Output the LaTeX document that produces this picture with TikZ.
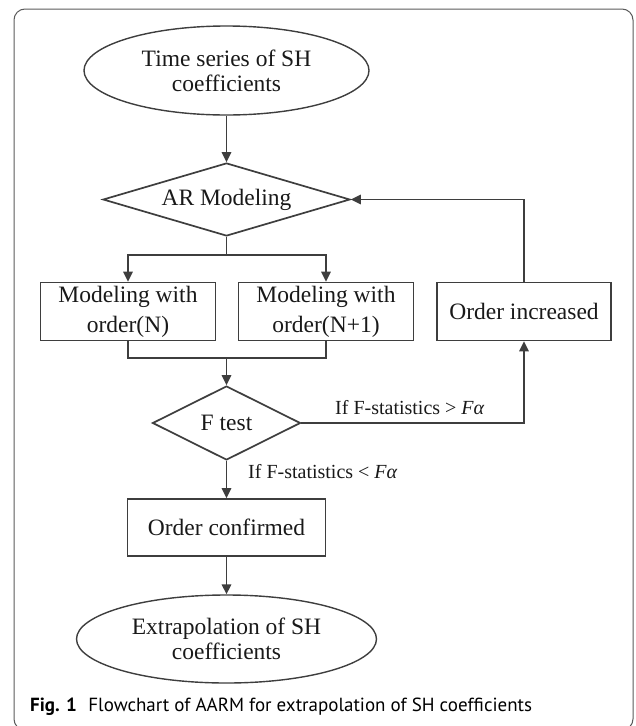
\documentclass[tikz,border=0pt]{standalone}
\usepackage{fontspec}
\setmainfont{Liberation Serif}
\newfontfamily\capfont{PT Sans}
\usetikzlibrary{shapes.geometric,arrows.meta}
\definecolor{linegray}{RGB}{62,62,62}
\definecolor{framegray}{RGB}{90,90,90}
\begin{document}
\begin{tikzpicture}[x=1pt,y=-1pt,
  base/.style={draw=linegray, line width=1.7pt, inner sep=0pt, font=\fontsize{23.5}{30}\selectfont, text=black!90, align=center},
  terminal/.style={base, ellipse, line width=1.4pt, font=\fontsize{23.5}{25}\selectfont},
  decision/.style={base, diamond},
  process/.style={base, rectangle},
  conn/.style={draw=linegray, line width=1.7pt},
  arr/.style={conn, -{Triangle[length=10pt,width=9.5pt]}},
  lbl/.style={font=\fontsize{20}{24}\selectfont, inner sep=0pt, text=black!90},
]
\useasboundingbox (0,0) rectangle (636,726);
\draw[framegray, line width=1pt, rounded corners=11pt] (14,9) rectangle (633,730);

\node[terminal, minimum width=285, minimum height=89] (start) at (226.5,70.5) {Time series of SH\\coefficients};
\node[decision, aspect=3.38, minimum width=247, minimum height=73] (ar) at (226.5,199.5) {AR Modeling};
\coordinate (split) at (226.5,255);
\node[process, minimum width=175, minimum height=58] (mn) at (128,311.5) {Modeling with\\order(N)};
\node[process, minimum width=175, minimum height=58] (mn1) at (326,311.5) {Modeling with\\order(N+1)};
\node[process, minimum width=174, minimum height=58] (oi) at (524,311.5) {Order increased};
\coordinate (join) at (226.5,358);
\node[decision, aspect=2, minimum width=148, minimum height=74] (ft) at (226.5,423) {F test};
\node[process, minimum width=198, minimum height=57] (oc) at (226.5,527.5) {Order confirmed};
\node[terminal, minimum width=300, minimum height=88] (end) at (226.5,639) {Extrapolation of SH\\coefficients};

\draw[arr] (start.south) -- (ar.north);
\draw[conn] (ar.south) -- (split);
\draw[arr] (split) -| (mn.north);
\draw[arr] (split) -| (mn1.north);
\draw[conn] (mn.south) |- (join);
\draw[conn] (mn1.south) |- (join);
\draw[arr] (join) -- (ft.north);
\draw[arr] (ft.east) -| (oi.south);
\draw[arr] (oi.north) |- (ar.east);
\draw[arr] (ft.south) -- (oc.north);
\draw[arr] (oc.south) -- (end.north);

\node[lbl, anchor=west] (gt) at (335,408) {If F-statistics > \textit{Fα}};
\node[lbl, anchor=west] (lt) at (248,472) {If F-statistics < \textit{Fα}};

\node[anchor=west, inner sep=0pt, font=\capfont\fontsize{19}{22}\selectfont] (cap) at (30,707) {\textbf{Fig. 1}\hspace{0.6em}Flowchart of AARM for extrapolation of SH coefficients};
\end{tikzpicture}
\end{document}
